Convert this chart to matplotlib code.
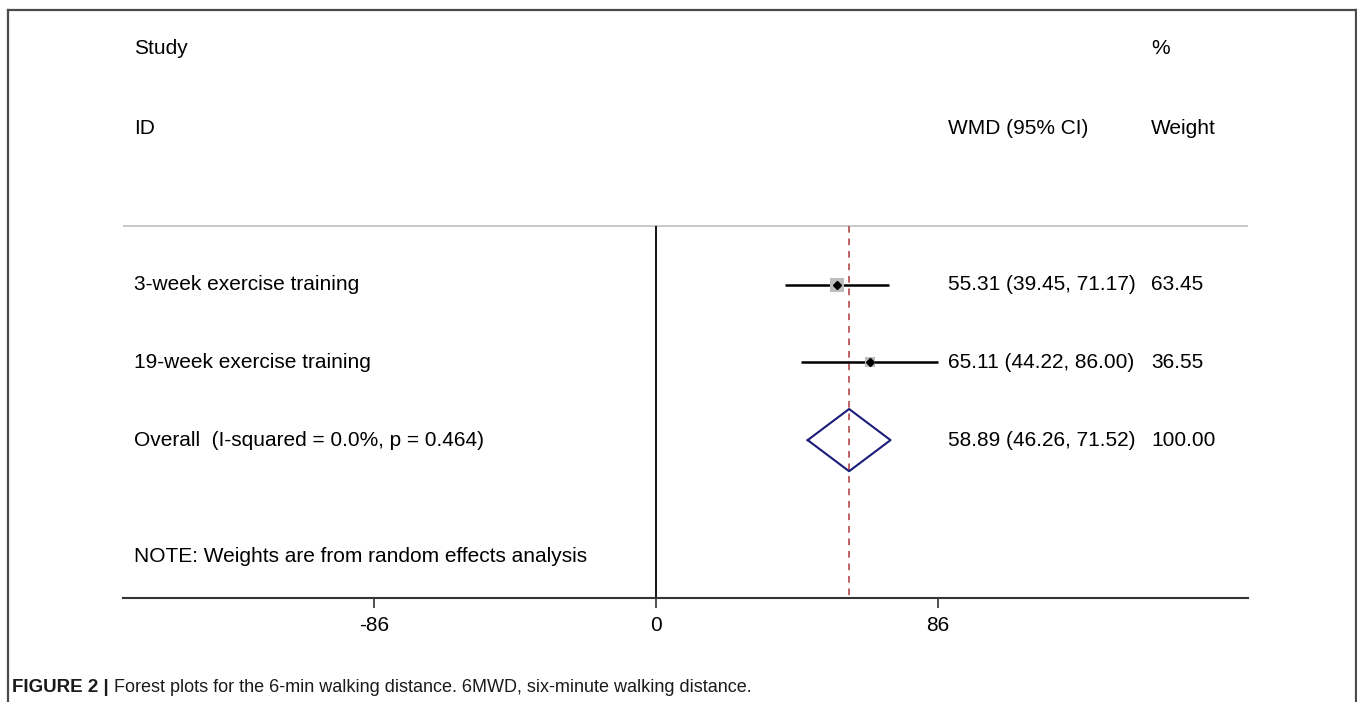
import numpy as np
import matplotlib
matplotlib.use("Agg")
import matplotlib.pyplot as plt
from matplotlib.lines import Line2D

plt.rcParams['font.family'] = ['Liberation Sans', 'DejaVu Sans']

# data
studies = ["3-week exercise training", "19-week exercise training"]
wmd = [55.31, 65.11]
ci_low = [39.45, 44.22]
ci_high = [71.17, 86.00]
weights = [63.45, 36.55]
overall = 58.89
overall_low = 46.26
overall_high = 71.52
overall_label = "Overall  (I-squared = 0.0%, p = 0.464)"
note = "NOTE: Weights are from random effects analysis"
xticks = [-86, 0, 86]
xlim = (-162.55, 180.54)

W, H = 1357, 702
fig = plt.figure(figsize=(W / 100, H / 100), dpi=100)

# axes spans pixel x 123..1248, y 10..598 (from top)
ax = fig.add_axes([123 / W, 1 - 598 / H, 1125 / W, 588 / H])
ax.set_xlim(*xlim)
# rows: 0 = first study, one unit = 78 px, y downward
ax.set_ylim(4.03, -3.53)

fs = 15
tx_label, tx_wmd, tx_w = 0.0098, 0.7333, 0.9138

def row_text(y, label, est, w):
    ax.text(tx_label, y, label, transform=ax.get_yaxis_transform(), fontsize=fs,
            va='center', ha='left')
    if est:
        ax.text(tx_wmd, y, est, transform=ax.get_yaxis_transform(), fontsize=fs,
                va='center', ha='left')
    if w:
        ax.text(tx_w, y, w, transform=ax.get_yaxis_transform(), fontsize=fs,
                va='center', ha='left')

# headers
row_text(-3.03, "Study", None, "%")
row_text(-2.0, "ID", "WMD (95% CI)", "Weight")

top_line = -0.756
ax.axhline(top_line, color='#c8c8c8', lw=1.4)

# zero line and overall dashed line
ax.plot([0, 0], [top_line, 4.03], color='black', lw=1.3, solid_capstyle='butt')
ax.plot([overall, overall], [top_line, 4.03], color='#b5474e', lw=1.2,
        dashes=(4, 3.5))

for i, (s, m, lo, hi, w) in enumerate(zip(studies, wmd, ci_low, ci_high, weights)):
    ax.plot([lo, hi], [i, i], color='black', lw=1.8, solid_capstyle='butt')
    ax.plot(m, i, marker='s', markersize=1.18 * np.sqrt(w), color='#bdbdbd',
            markeredgewidth=0, zorder=3)
    ax.plot(m, i, marker='D', markersize=4.5, color='black', zorder=4)
    row_text(i, s, "%.2f (%.2f, %.2f)" % (m, lo, hi), "%.2f" % w)

# overall diamond
yo = len(studies)
dh = 0.4
ax.plot([overall_low, overall, overall_high, overall, overall_low],
        [yo, yo - dh, yo, yo + dh, yo], color='#1b1b7a', lw=1.5, zorder=5)
row_text(yo, overall_label, "%.2f (%.2f, %.2f)" % (overall, overall_low, overall_high),
         "100.00")

row_text(yo + 1.5, note, None, None)

for sp in ['top', 'left', 'right']:
    ax.spines[sp].set_visible(False)
ax.spines['bottom'].set_color('#333333')
ax.spines['bottom'].set_linewidth(1.5)
ax.set_yticks([])
ax.set_xticks(xticks)
ax.set_xticklabels([str(t) for t in xticks])
ax.tick_params(axis='x', length=7, width=1.2, color='#333333', labelsize=fs, pad=6)

# outer frame
fc = '#4a4a4a'
fig.add_artist(Line2D([8 / W, 8 / W], [0, 1 - 10 / H], color=fc, lw=1.6))
fig.add_artist(Line2D([8 / W, 1355.5 / W], [1 - 10 / H, 1 - 10 / H], color=fc, lw=1.6))
fig.add_artist(Line2D([1355.5 / W, 1355.5 / W], [0, 1 - 10 / H], color=fc, lw=1.6))

# caption
cap_y = 1 - 687 / H
t1 = fig.text(12 / W, cap_y, "FIGURE 2 |", fontsize=13.5, fontweight='bold',
              va='center', ha='left', color='#1a1a1a')
fig.canvas.draw()
bb = t1.get_window_extent()
fig.text((bb.x1 + 5) / W, cap_y,
         "Forest plots for the 6-min walking distance. 6MWD, six-minute walking distance.",
         fontsize=13, va='center', ha='left', color='#1a1a1a')

fig.savefig("out.png", dpi=100)
